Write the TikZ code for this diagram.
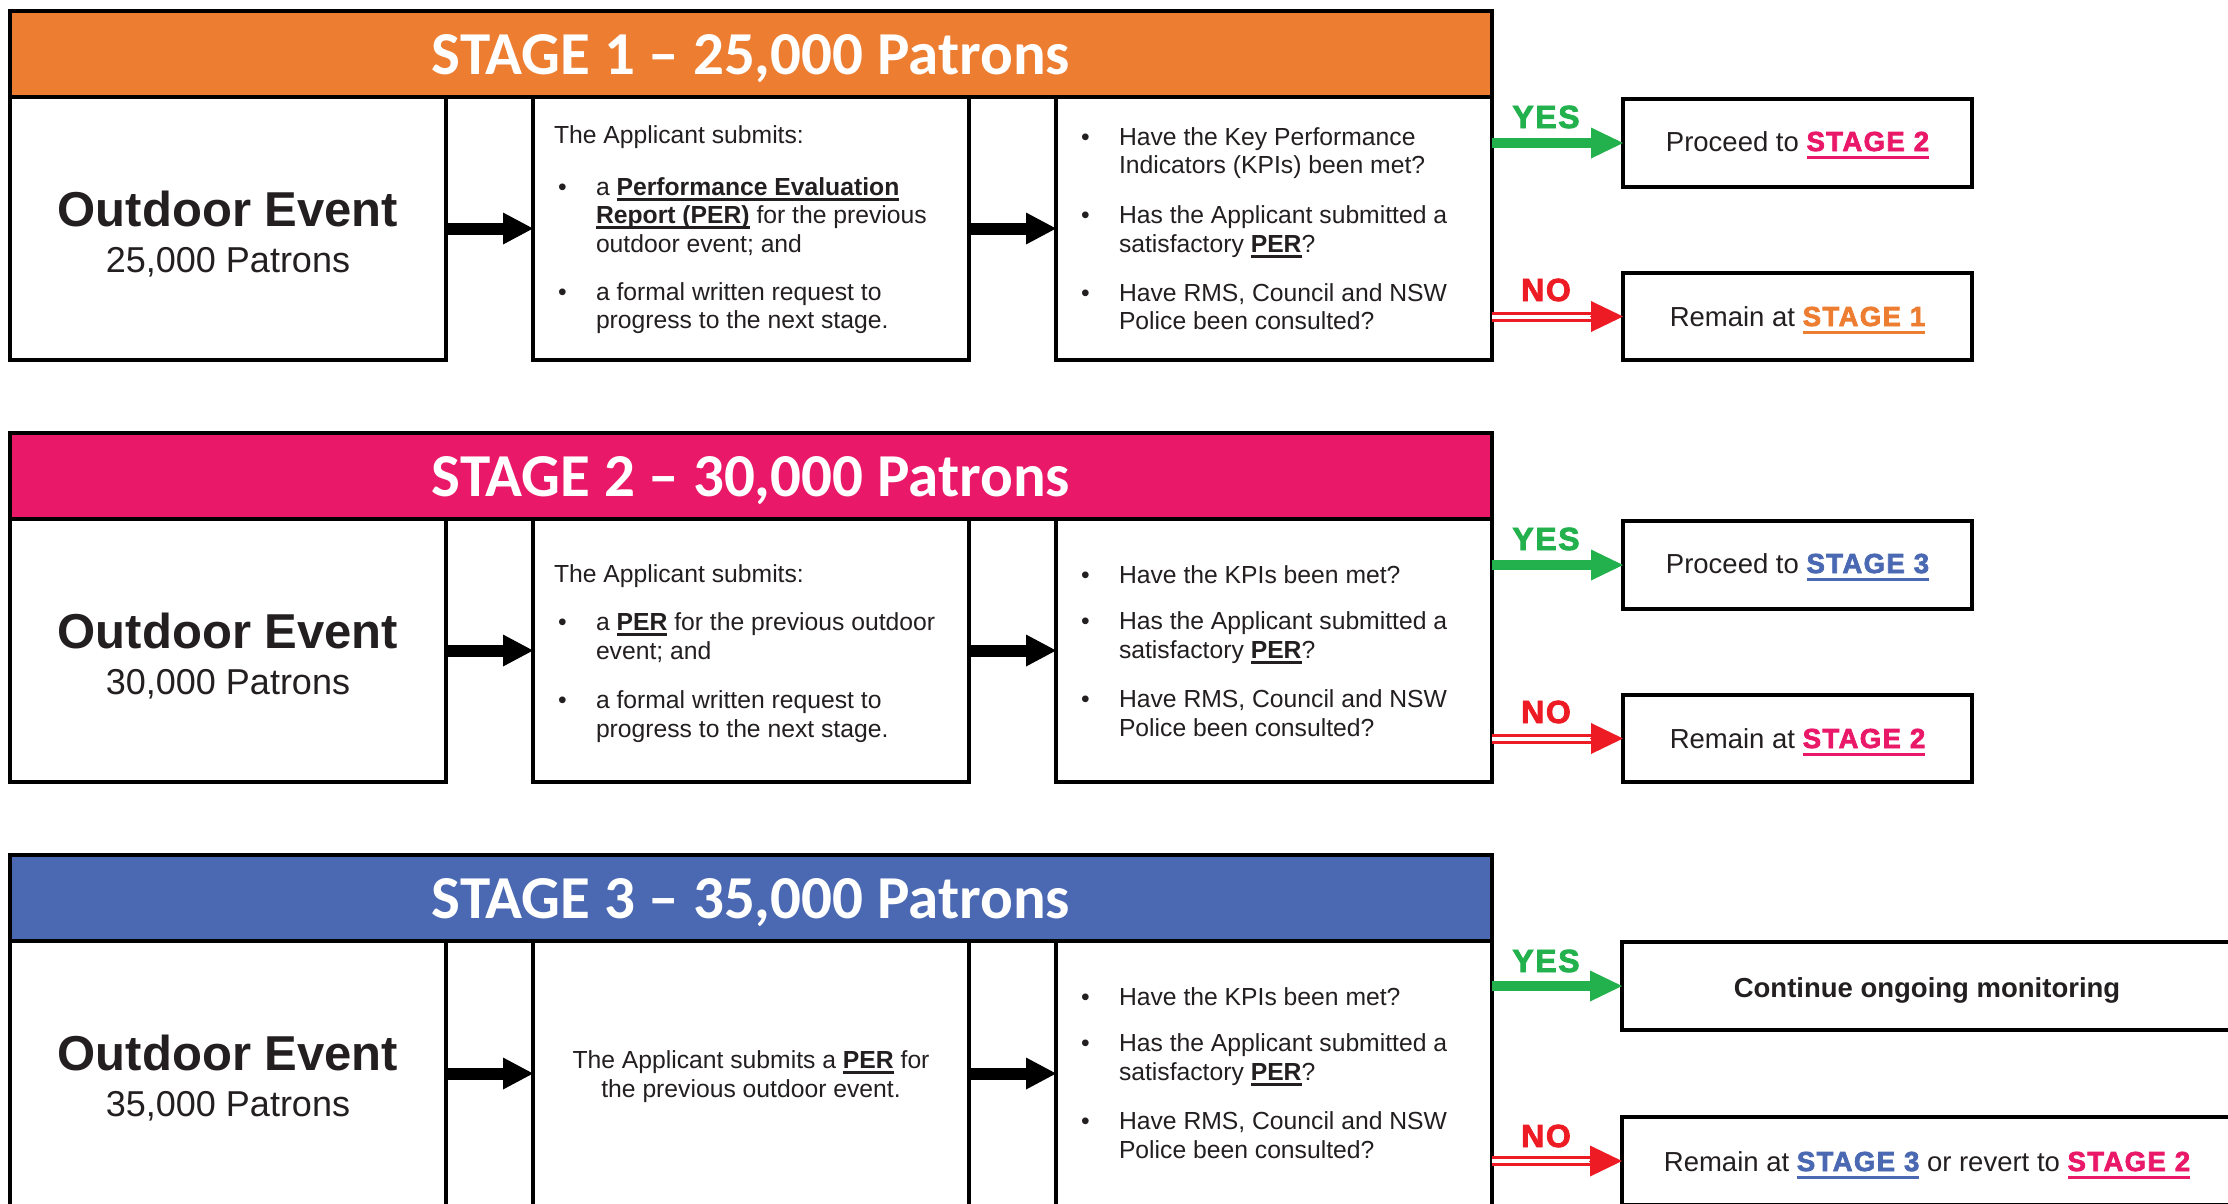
\documentclass[tikz,border=0pt]{standalone}
\usepackage{fontspec}
\setmainfont{Liberation Sans}
\newfontfamily\hdrfont{Carlito}
\newfontfamily\heavyfont{Liberation Sans}[BoldFeatures={FakeBold=2.6,LetterSpace=5}]
\usetikzlibrary{arrows.meta}
\definecolor{orng}{RGB}{237,125,49}
\definecolor{pnk}{RGB}{234,24,104}
\definecolor{blu}{RGB}{74,105,178}
\definecolor{grn}{RGB}{34,177,76}
\definecolor{nored}{RGB}{237,28,36}
\definecolor{ink}{RGB}{35,31,32}
\newcommand\ulx[3]{\setbox0\hbox{#3}\rlap{\rule[-#1pt]{\wd0}{#2pt}}\box0\relax}
\newcommand\ulb[1]{\ulx{5.5}{3}{\bfseries #1}}
\newcommand\stg[2]{{\color{#1}\ulx{7.5}{2.8}{\heavyfont\bfseries #2}}}
\newcounter{txn}
\newcommand\tx[4][]{\stepcounter{txn}\node[body,#1] (tx\arabic{txn}) at (#2,#3) {#4};}
\newcommand\bu[2]{\tx{#1}{#2}{\textbullet}}
\newcommand\mkbox[6][]{\node[box,#1,minimum width={(#5-#3)*1pt},minimum height={(#6-#4)*1pt}] (#2) at ({(#3+#5)/2},{(#4+#6)/2}) {};}
\begin{document}
\begin{tikzpicture}[x=1pt,y=-1pt,
  box/.style={draw=black, line width=3.5pt, fill=white, inner sep=0pt, outer sep=0pt},
  body/.style={inner sep=0pt, outer sep=0pt, anchor=base west, text=ink, font=\fontsize{24.7}{28.5}\selectfont},
  mid/.style={anchor=base},
  big/.style={anchor=base, font=\bfseries\fontsize{49}{55}\selectfont},
  pat/.style={anchor=base, font=\fontsize{36}{40}\selectfont},
  rt/.style={anchor=base, font=\fontsize{27.5}{32}\selectfont},
  hdr/.style={inner sep=0pt, anchor=base, text=white, font=\hdrfont\bfseries\fontsize{61}{66}\selectfont},
  yes/.style={inner sep=0pt, anchor=base, text=grn, font=\heavyfont\bfseries\fontsize{32}{32}\selectfont},
  no/.style={yes, text=nored},
  blkarrow/.style={draw=black, line width=12pt, -{Triangle[length=30pt,width=32pt,line width=0pt]}},
  yesarrow/.style={draw=grn, line width=10pt, -{Triangle[length=32pt,width=31pt,line width=0pt]}},
  noline/.style={draw=nored, line width=3pt, double=white, double distance=4pt, shorten >=31pt},
  notip/.style={draw=nored, line width=1pt, -{Triangle[length=32pt,width=31pt,line width=0pt]}}
]
\useasboundingbox (0,0) rectangle (2228,1203);
\clip (0,0) rectangle (2228,1203);

% ---------------- STAGE 1 ----------------
\mkbox[fill=orng]{h1}{10}{11}{1492}{97}
\node[hdr] (h1t) at (751,74) {STAGE 1 – 25,000 Patrons};
\mkbox{a1}{10}{97}{446}{360}
\mkbox{b1}{533}{97}{969}{360}
\mkbox{c1}{1056}{97}{1492}{360}
\mkbox{y1}{1623}{99}{1972}{187}
\mkbox{n1}{1623}{273}{1972}{360}

\tx[big]{228}{226}{Outdoor Event}
\tx[pat]{228}{272}{25,000 Patrons}

\tx{554}{143}{The Applicant submits:}
\bu{558}{195}\tx{596}{195}{a \ulb{Performance Evaluation}}
\tx{596}{223}{\ulb{Report (PER)} for the previous}
\tx{596}{252}{outdoor event; and}
\bu{558}{300}\tx{596}{300}{a formal written request to}
\tx{596}{328}{progress to the next stage.}

\bu{1081}{145}\tx{1119}{145}{Have the Key Performance}
\tx{1119}{173}{Indicators (KPIs) been met?}
\bu{1081}{223}\tx{1119}{223}{Has the Applicant submitted a}
\tx{1119}{252}{satisfactory \ulb{PER}?}
\bu{1081}{301}\tx{1119}{301}{Have RMS, Council and NSW}
\tx{1119}{329}{Police been consulted?}

\tx[rt]{1797.5}{151}{Proceed to \stg{pnk}{STAGE 2}}
\tx[rt]{1797.5}{326}{Remain at \stg{orng}{STAGE 1}}

\draw[blkarrow] (a1.east) -- (b1.west);
\draw[blkarrow] (b1.east) -- (c1.west);
\draw[yesarrow] (c1.east |- y1.west) -- (y1.west);
\draw[noline] (c1.east |- n1.west) -- (n1.west);
\draw[notip] ([xshift=-33pt]n1.west) -- (n1.west);
\node[yes] (yl1) at (1546,128) {YES};
\node[no] (nl1) at (1546,301) {NO};

% ---------------- STAGE 2 ----------------
\mkbox[fill=pnk]{h2}{10}{433}{1492}{519}
\node[hdr] (h2t) at (751,496) {STAGE 2 – 30,000 Patrons};
\mkbox{a2}{10}{519}{446}{782}
\mkbox{b2}{533}{519}{969}{782}
\mkbox{c2}{1056}{519}{1492}{782}
\mkbox{y2}{1623}{521}{1972}{609}
\mkbox{n2}{1623}{695}{1972}{782}

\tx[big]{228}{648}{Outdoor Event}
\tx[pat]{228}{694}{30,000 Patrons}

\tx{554}{582}{The Applicant submits:}
\bu{558}{630}\tx{596}{630}{a \ulb{PER} for the previous outdoor}
\tx{596}{659}{event; and}
\bu{558}{708}\tx{596}{708}{a formal written request to}
\tx{596}{737}{progress to the next stage.}

\bu{1081}{583}\tx{1119}{583}{Have the KPIs been met?}
\bu{1081}{629}\tx{1119}{629}{Has the Applicant submitted a}
\tx{1119}{658}{satisfactory \ulb{PER}?}
\bu{1081}{707}\tx{1119}{707}{Have RMS, Council and NSW}
\tx{1119}{736}{Police been consulted?}

\tx[rt]{1797.5}{573}{Proceed to \stg{blu}{STAGE 3}}
\tx[rt]{1797.5}{748}{Remain at \stg{pnk}{STAGE 2}}

\draw[blkarrow] (a2.east) -- (b2.west);
\draw[blkarrow] (b2.east) -- (c2.west);
\draw[yesarrow] (c2.east |- y2.west) -- (y2.west);
\draw[noline] (c2.east |- n2.west) -- (n2.west);
\draw[notip] ([xshift=-33pt]n2.west) -- (n2.west);
\node[yes] (yl2) at (1546,550) {YES};
\node[no] (nl2) at (1546,723) {NO};

% ---------------- STAGE 3 ----------------
\mkbox[fill=blu]{h3}{10}{855}{1492}{941}
\node[hdr] (h3t) at (751,918) {STAGE 3 – 35,000 Patrons};
\mkbox{a3}{10}{941}{446}{1206}
\mkbox{b3}{533}{941}{969}{1206}
\mkbox{c3}{1056}{941}{1492}{1206}
\mkbox{y3}{1622}{942}{2240}{1030}
\mkbox{n3}{1622}{1117}{2240}{1205}

\tx[big]{228}{1070}{Outdoor Event}
\tx[pat]{228}{1116}{35,000 Patrons}

\tx[mid]{751}{1068}{The Applicant submits a \ulb{PER} for}
\tx[mid]{751}{1097}{the previous outdoor event.}

\bu{1081}{1005}\tx{1119}{1005}{Have the KPIs been met?}
\bu{1081}{1051}\tx{1119}{1051}{Has the Applicant submitted a}
\tx{1119}{1080}{satisfactory \ulb{PER}?}
\bu{1081}{1129}\tx{1119}{1129}{Have RMS, Council and NSW}
\tx{1119}{1158}{Police been consulted?}

\tx[rt]{1927}{997}{\bfseries Continue ongoing monitoring}
\tx[rt]{1927}{1171}{Remain at \stg{blu}{STAGE 3} or revert to \stg{pnk}{STAGE 2}}

\draw[blkarrow] (a3.east) -- (b3.west);
\draw[blkarrow] (b3.east) -- (c3.west);
\draw[yesarrow] (c3.east |- y3.west) -- (y3.west);
\draw[noline] (c3.east |- n3.west) -- (n3.west);
\draw[notip] ([xshift=-33pt]n3.west) -- (n3.west);
\node[yes] (yl3) at (1546,972) {YES};
\node[no] (nl3) at (1546,1147) {NO};
\end{tikzpicture}
\end{document}
